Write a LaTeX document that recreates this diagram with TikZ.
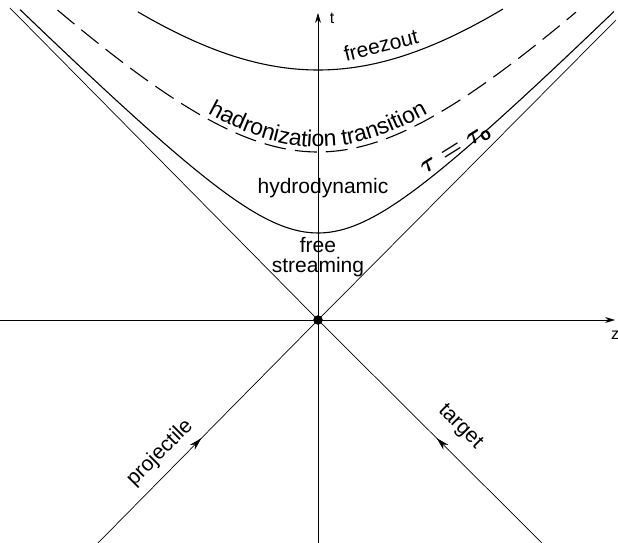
\documentclass[tikz,border=0pt]{standalone}
\usepackage{fontspec}
\setmainfont{Liberation Sans}
\usetikzlibrary{arrows.meta,decorations.markings,decorations.text}

\newcommand{\lblfont}{\fontsize{21}{20}\selectfont}

\tikzset{
    axis/.style={line width=0.8pt, -{Stealth[length=10pt,width=6pt]}},
    cone/.style={line width=0.7pt},
    hyper/.style={line width=1.1pt},
    lbl/.style={font=\lblfont},
    midarrow/.style={postaction={decorate},
        decoration={markings, mark=at position #1 with {\arrow{Stealth[length=13pt,width=7pt]}}}}
}

\begin{document}
\begin{tikzpicture}[x=100pt, y=100pt]
    \useasboundingbox (-3.18,-2.23) rectangle (3.00,3.20);

    % Axes
    \coordinate (zl) at (-3.18,0);
    \coordinate (zr) at (2.97,0);
    \coordinate (tb) at (0,-2.23);
    \coordinate (tt) at (0,3.07);
    \draw[axis] (zl) -- (zr);
    \draw[axis] (tb) -- (tt);
    \node[font=\fontsize{16}{16}\selectfont] (zlabel) at (2.97,-0.15) {z};
    \node[font=\fontsize{16}{16}\selectfont] (tlabel) at (0.14,3.02) {t};

    % Light cone (projectile and target)
    \coordinate (O) at (0,0);
    \coordinate (pb) at (-2.20,-2.23);
    \coordinate (pt) at (2.98,3.00);
    \coordinate (gb) at (2.24,-2.23);
    \coordinate (gt) at (-3.08,3.12);
    \draw[cone, midarrow=0.47] (pb) -- (O);
    \draw[cone] (O) -- (pt);
    \draw[cone, midarrow=0.47] (gb) -- (O);
    \draw[cone] (O) -- (gt);
    \filldraw[black] (O) circle (0.045);

    % Hyperbolas tau = const
    \draw[hyper] plot[domain=-2.98:2.96, samples=120] (\x, {sqrt(0.87*0.87+\x*\x)});
    \draw[hyper, dash pattern=on 22pt off 9pt]
        plot[domain=-2.605:2.58, samples=100] (\x, {sqrt(1.68*1.68+\x*\x)});
    \draw[hyper] plot[domain=-1.80:1.85, samples=80] (\x, {sqrt(2.5*2.5+\x*\x)});

    % Labels
    \path[decorate, decoration={text along path, text align=center, raise=5pt,
        text={|\fontsize{23}{20}\selectfont|hadronization transition}}]
        plot[domain=-2.605:2.605, samples=100] (\x, {sqrt(1.68*1.68+\x*\x)});
    \node[lbl, rotate=14] (freeze) at (0.63,2.75) {freezout};
    \node[lbl] (hydro) at (0.05,1.32) {hydrodynamic};
    \node[lbl, align=center] (free) at (0,0.63) {free\\streaming};
    \node[font=\fontsize{25}{25}\selectfont\boldmath, rotate=32] (tau) at (1.38,1.69)
        {$\tau=\tau_{\mathrm{o}}$};
    \node[lbl, rotate=45] (proj) at (-1.58,-1.33) {projectile};
    \node[lbl, rotate=-45] (targ) at (1.42,-1.07) {target};
\end{tikzpicture}
\end{document}
